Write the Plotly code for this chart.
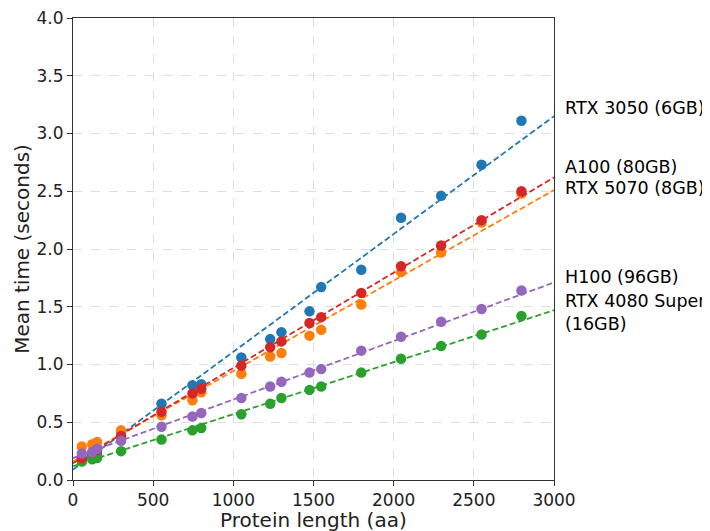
import plotly.graph_objects as go

# Protein lengths (aa)
lengths = [55, 120, 150, 300, 552, 745, 800, 1050, 1230, 1300, 1475, 1548, 1798, 2046, 2296, 2548, 2797]

gpu_names = ["RTX 3050 (6GB)", "RTX 5070 (8GB)", "RTX 4080 Super<br>(16GB)", "A100 (80GB)", "H100 (96GB)"]

rtx3050 = [0.18, 0.21, 0.22, 0.42, 0.66, 0.82, 0.83, 1.06, 1.22, 1.28, 1.46, 1.67, 1.82, 2.27, 2.46, 2.73, 3.11]
rtx5070 = [0.29, 0.31, 0.33, 0.43, 0.56, 0.69, 0.76, 0.92, 1.07, 1.10, 1.25, 1.30, 1.52, 1.80, 1.97, 2.23, 2.48]
rtx4080s = [0.16, 0.18, 0.19, 0.25, 0.35, 0.43, 0.45, 0.57, 0.66, 0.71, 0.78, 0.81, 0.93, 1.05, 1.16, 1.26, 1.42]
a100 = [0.19, 0.24, 0.26, 0.38, 0.59, 0.75, 0.79, 0.99, 1.15, 1.20, 1.36, 1.41, 1.62, 1.85, 2.03, 2.25, 2.50]
h100 = [0.23, 0.24, 0.27, 0.34, 0.46, 0.55, 0.58, 0.71, 0.81, 0.85, 0.93, 0.96, 1.12, 1.24, 1.37, 1.48, 1.64]

# Linear-fit line values at length 0 and 3000
fit_lengths = [0, 3000]
fit_at_0 = [0.09, 0.16, 0.12, 0.145, 0.19]
fit_at_3000 = [3.15, 2.51, 1.47, 2.62, 1.71]

series = [rtx3050, rtx5070, rtx4080s, a100, h100]
colors = ["#1f77b4", "#ff7f0e", "#2ca02c", "#d62728", "#9467bd"]
label_y = [3.22, 2.53, 1.45, 2.71, 1.76]

fig = go.Figure()
for name, vals, col, f0, f1 in zip(gpu_names, series, colors, fit_at_0, fit_at_3000):
    fig.add_trace(go.Scatter(x=fit_lengths, y=[f0, f1], mode="lines",
                             line=dict(color=col, width=1.8, dash="6px,3px"),
                             showlegend=False, name=name))
    fig.add_trace(go.Scatter(x=lengths, y=vals, mode="markers",
                             marker=dict(color=col, size=10.5),
                             showlegend=False, name=name))

for name, ly in zip(gpu_names, label_y):
    fig.add_annotation(x=1.018, xref="paper", y=ly, yref="y", text=name,
                       showarrow=False, xanchor="left", yanchor="middle", align="left",
                       font=dict(size=17.5, color="#000000", family="DejaVu Sans"))

# x-axis title
fig.add_annotation(x=0.5, xref="paper", y=-0.0855, yref="paper", text="Protein length (aa)",
                   showarrow=False, xanchor="center", yanchor="middle",
                   font=dict(size=20, color="#222222", family="DejaVu Sans"))

axis_common = dict(showline=True, linecolor="#333333", linewidth=1, mirror=True,
                   ticks="outside", ticklen=5, tickcolor="#333333",
                   showgrid=True, gridcolor="#dddddd", griddash="dash", gridwidth=1,
                   zeroline=False, automargin=False, ticklabeloverflow="allow",
                   tickfont=dict(size=17, color="#222222", family="DejaVu Sans"))

fig.update_xaxes(range=[0, 3000], tickvals=[0, 500, 1000, 1500, 2000, 2500, 3000],
                 **axis_common)
fig.update_yaxes(range=[0, 4.0], tickvals=[0, 0.5, 1.0, 1.5, 2.0, 2.5, 3.0, 3.5, 4.0],
                 ticktext=["0.0", "0.5", "1.0", "1.5", "2.0", "2.5", "3.0", "3.5", "4.0"],
                 title=dict(text="Mean time (seconds)", standoff=1,
                            font=dict(size=20, color="#222222", family="DejaVu Sans")),
                 **axis_common)

fig.update_layout(width=702, height=523,
                  margin=dict(l=65, r=156, t=10, b=51),
                  plot_bgcolor="white", paper_bgcolor="white",
                  font=dict(family="DejaVu Sans"))

fig.write_html("out.html")
